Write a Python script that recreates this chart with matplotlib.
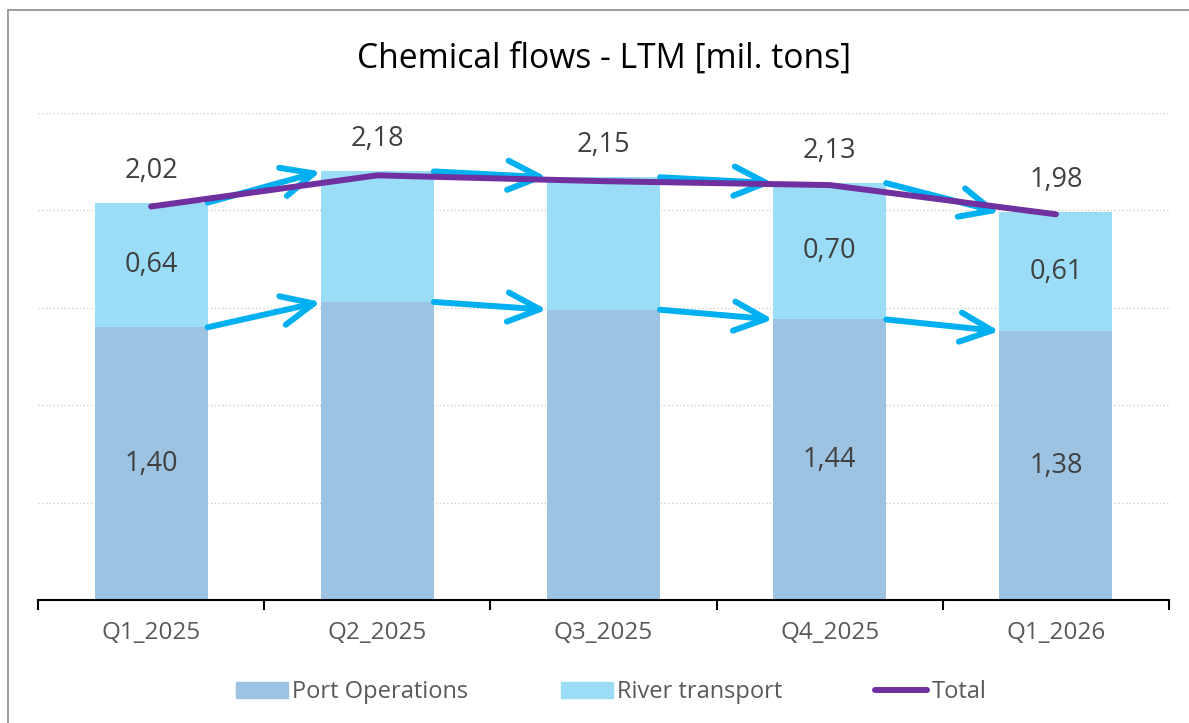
import matplotlib
matplotlib.use("Agg")
import matplotlib.pyplot as plt
from matplotlib.patches import FancyArrowPatch, Rectangle, Patch
from matplotlib.lines import Line2D

plt.rcParams['font.family'] = ['Open Sans', 'DejaVu Sans']

categories = ["Q1_2025", "Q2_2025", "Q3_2025", "Q4_2025", "Q1_2026"]
port_ops = [1.40, 1.53, 1.49, 1.44, 1.38]
river = [0.64, 0.67, 0.68, 0.70, 0.61]
total = [2.02, 2.18, 2.15, 2.13, 1.98]
show_inner = [True, False, False, True, True]

c_port = "#9DC3E3"
c_river = "#9BDDF7"
c_arrow = "#00B0F0"
c_total = "#7030A0"
c_text = "#404040"
c_tick = "#595959"

fig = plt.figure(figsize=(11.89, 7.23), dpi=100)
ax = fig.add_axes([38/1189, 1-600/723, (1169-38)/1189, (600-113)/723])

x = list(range(len(categories)))
w = 0.5
ax.bar(x, port_ops, width=w, color=c_port, zorder=2)
ax.bar(x, river, width=w, bottom=port_ops, color=c_river, zorder=2)

tops = [p + r for p, r in zip(port_ops, river)]
for i in range(len(x) - 1):
    for ys in (tops, port_ops):
        arr = FancyArrowPatch((x[i] + w/2, ys[i]), (x[i+1] - w/2, ys[i+1]),
                              arrowstyle="->,head_length=2.3,head_width=1.05",
                              mutation_scale=10, color=c_arrow, lw=4.3,
                              shrinkA=0, shrinkB=0, zorder=3,
                              capstyle='round', joinstyle='round')
        ax.add_patch(arr)

ax.plot(x, total, color=c_total, lw=4.3, solid_capstyle='round',
        solid_joinstyle='round', zorder=4)

fmt = lambda v: f"{v:.2f}".replace(".", ",")
fs_val = 19.5
for i in x:
    ax.annotate(fmt(total[i]), (x[i], tops[i]), xytext=(0, 23),
                textcoords='offset points', ha='center', va='center',
                fontsize=fs_val, color=c_text, zorder=5)
    if show_inner[i]:
        ax.text(x[i], port_ops[i]/2, fmt(port_ops[i]), ha='center', va='center',
                fontsize=fs_val, color=c_text, zorder=5)
        ax.text(x[i], port_ops[i] + river[i]/2, fmt(river[i]), ha='center',
                va='center', fontsize=fs_val, color=c_text, zorder=5)

ax.set_xlim(-0.5, len(x) - 0.5)
ax.set_ylim(0, 2.5)
ax.set_yticks([0.5, 1.0, 1.5, 2.0, 2.5])
ax.yaxis.grid(True, linestyle=(0, (1, 2)), color="#C8C8C8", lw=0.9, zorder=0)
ax.tick_params(axis='y', left=False, labelleft=False)
ax.set_xticks(x)
ax.set_xticklabels(categories, fontsize=17.5, color=c_tick)
ax.set_xticks([i - 0.5 for i in range(len(x) + 1)], minor=True)
ax.tick_params(axis='x', which='major', length=0, pad=15)
ax.tick_params(axis='x', which='minor', length=7, width=1.5, color='black', direction='out')
for s in ('top', 'right', 'left'):
    ax.spines[s].set_visible(False)
ax.spines['bottom'].set_linewidth(1.5)
ax.spines['bottom'].set_color('black')

fig.text(604/1189, 1-59/723, "Chemical flows - LTM [mil. tons]", ha='center',
         va='center', fontsize=24.2, color='black')

handles = [Patch(color=c_port, label="Port Operations"),
           Patch(color=c_river, label="River transport"),
           Line2D([0], [0], color=c_total, lw=4.3, solid_capstyle='round', label="Total")]
fig.legend(handles=handles, loc='center', bbox_to_anchor=(611/1189, 1-692/723),
           ncol=3, frameon=False, fontsize=17, handlelength=2.2, handleheight=0.65,
           handletextpad=0.2, columnspacing=3.9, labelcolor=c_tick)

fig.add_artist(Rectangle((8/1189, -0.1), 2, 1.1 - 10/723, transform=fig.transFigure,
                         fill=False, edgecolor="#8C8C8C", lw=1.2))

fig.savefig("out.png", dpi=100)
